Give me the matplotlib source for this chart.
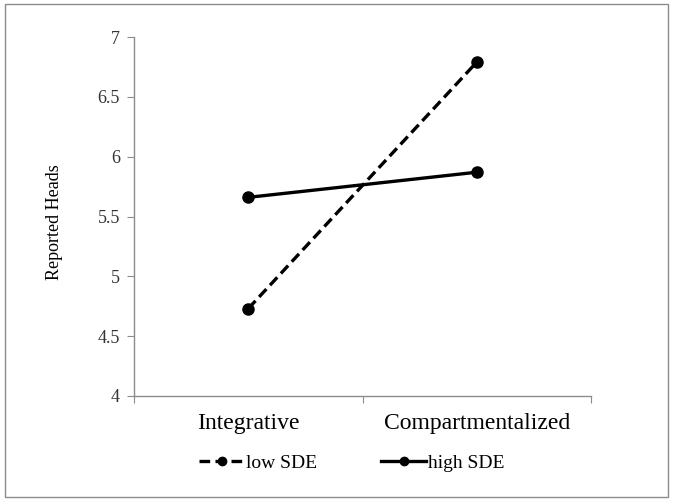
import matplotlib
matplotlib.use("Agg")
import matplotlib.pyplot as plt
from matplotlib.patches import Rectangle

categories = ["Integrative", "Compartmentalized"]
low_sde = [4.73, 6.79]
high_sde = [5.66, 5.87]
y_ticks = [4, 4.5, 5, 5.5, 6, 6.5, 7]
y_tick_labels = ["4", "4.5", "5", "5.5", "6", "6.5", "7"]

plt.rcParams["font.family"] = ["Liberation Serif", "DejaVu Serif"]

W, H = 673, 501
fig = plt.figure(figsize=(W / 100, H / 100), dpi=100)

# outer frame
fig.patches.append(Rectangle((5 / W, 4 / H), (W - 10) / W, (H - 8) / H,
                             transform=fig.transFigure, fill=False,
                             edgecolor="#8c8c8c", linewidth=1.0))

left, right, top, bottom = 134, 591, 37, 396
ax = fig.add_axes([left / W, 1 - bottom / H, (right - left) / W, (bottom - top) / H])

xpos = [i + 0.5 for i in range(len(categories))]
ax.plot(xpos, low_sde, color="black", linestyle=(0, (3.2, 1.6)), linewidth=2.4,
        marker="o", markersize=8, label="low SDE")
ax.plot(xpos, high_sde, color="black", linestyle="-", linewidth=2.4,
        marker="o", markersize=8, label="high SDE")

ax.set_xlim(0, len(categories))
ax.set_ylim(4, 7)
ax.set_xticks(range(len(categories) + 1))
ax.set_xticklabels([])
ax.set_xticks(xpos, minor=True)
ax.set_xticklabels(categories, minor=True, fontsize=17)
ax.tick_params(axis="x", which="minor", length=0, pad=12)
ax.tick_params(axis="x", which="major", length=5, color="#8c8c8c", direction="out")
ax.set_yticks(y_ticks)
ax.set_yticklabels(y_tick_labels, fontsize=13, color="#333333")
ax.tick_params(axis="y", length=5, color="#8c8c8c", direction="out", pad=5)

for s in ["top", "right"]:
    ax.spines[s].set_visible(False)
for s in ["left", "bottom"]:
    ax.spines[s].set_color("#8c8c8c")
    ax.spines[s].set_linewidth(1.0)

ax.set_ylabel("Reported Heads", fontsize=13)
ax.yaxis.set_label_coords(-0.155, 0.485)

fig.legend(loc="center", bbox_to_anchor=(352 / W, 1 - 463 / H), ncol=2,
           frameon=False, fontsize=14, handlelength=2.3, handletextpad=0.1,
           columnspacing=3.3, markerscale=0.75)

fig.savefig("out.png", dpi=100)
